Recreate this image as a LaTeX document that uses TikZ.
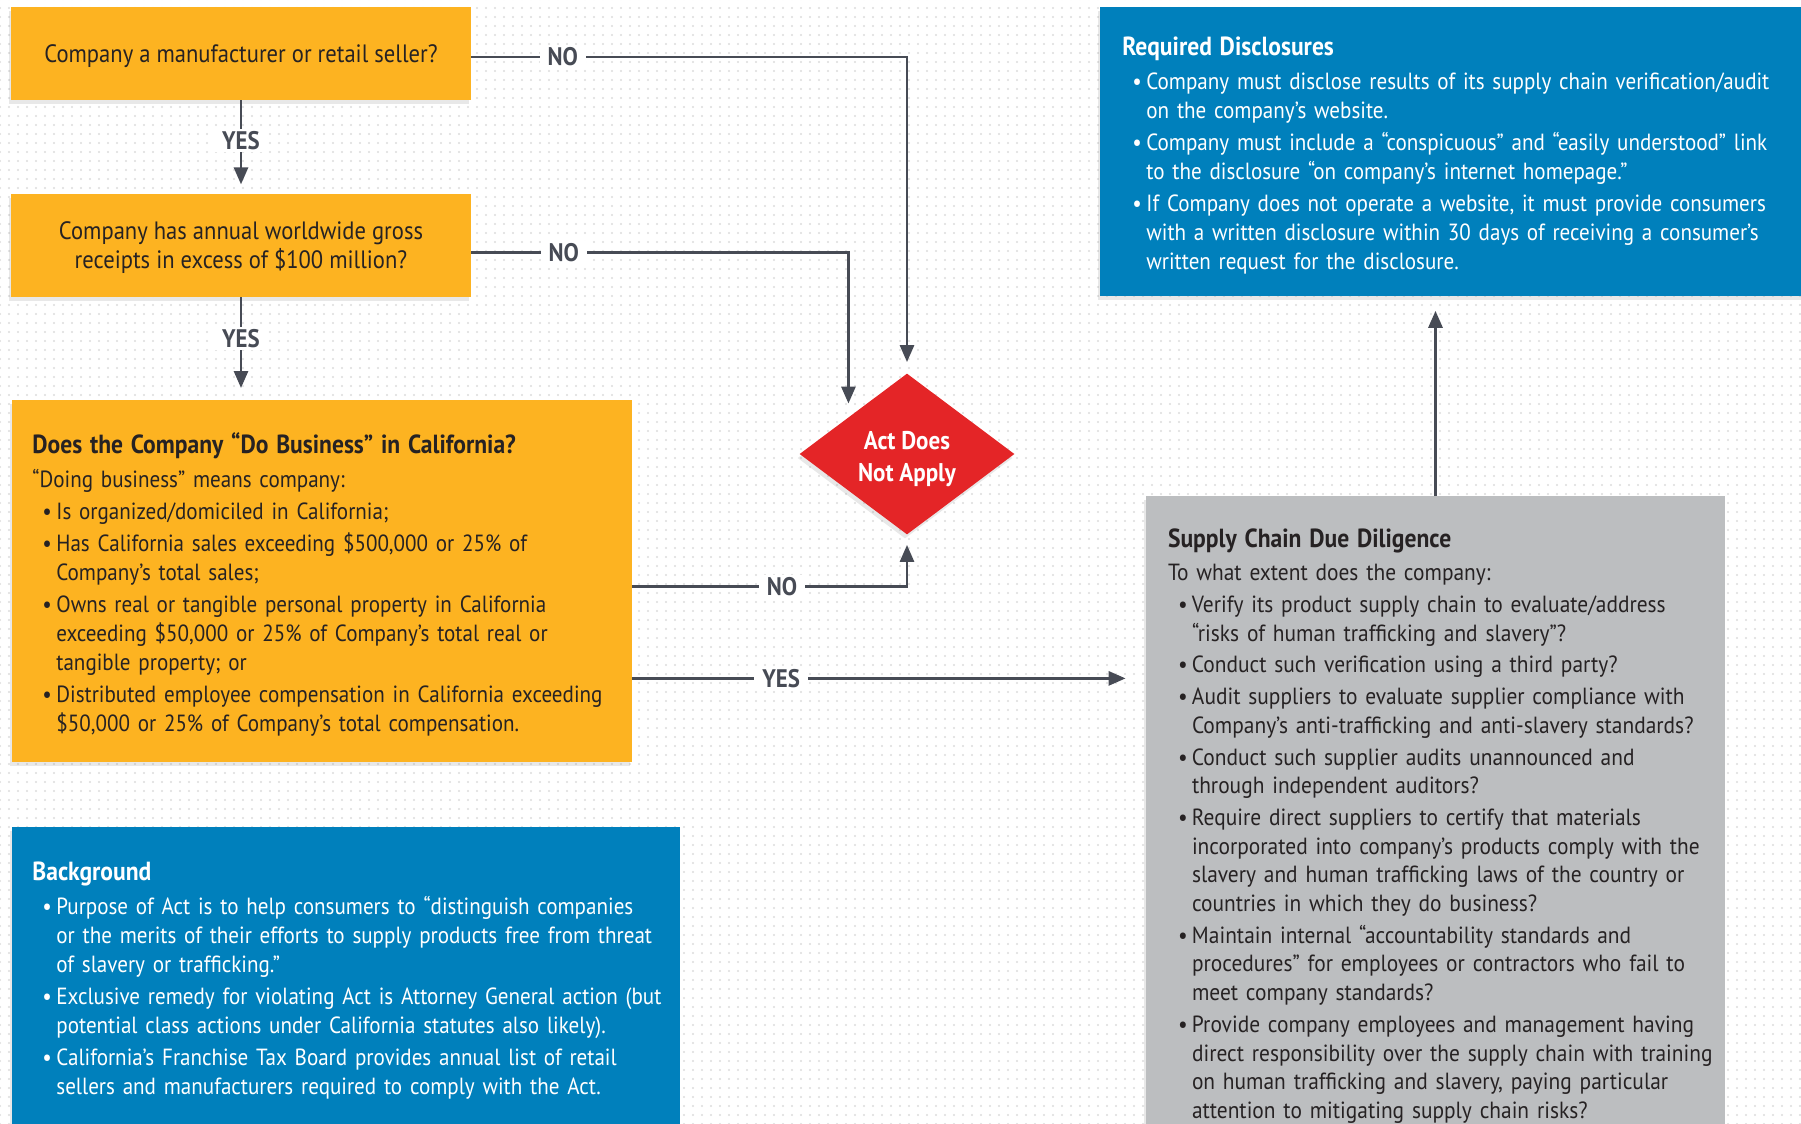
\documentclass[tikz,border=0pt]{standalone}
\usepackage{fontspec}
\setmainfont{PT Sans}
\newfontfamily\condfont{PT Sans}[FakeStretch=0.9]
\newfontfamily\midfont{PT Sans}[FakeStretch=0.915]
\usetikzlibrary{positioning,arrows.meta,shapes.geometric,shadows,patterns.meta}

\definecolor{qorange}{HTML}{FDB321}
\definecolor{infoblue}{HTML}{0080BC}
\definecolor{dilgray}{HTML}{BCBEC0}
\definecolor{stopred}{HTML}{E42527}
\definecolor{linegray}{HTML}{474B55}
\definecolor{inkdark}{HTML}{262223}
\definecolor{dotgray}{HTML}{DCDCDC}

\newcommand{\qfont}{\condfont\fontsize{12.55}{14.4}\selectfont}
\newcommand{\boxfont}{\condfont\fontsize{11.7}{14.5}\selectfont}
\newcommand{\wideboxfont}{\midfont\fontsize{11.7}{14.35}\selectfont}
\newcommand{\headfont}{\condfont\bfseries\fontsize{13.1}{14.5}\selectfont}
\newcommand{\tagfont}{\condfont\bfseries\fontsize{12.7}{14}\selectfont}
% bullet line and its continuation
\newcommand{\bitem}[1]{\mbox{\hspace*{5pt}\makebox[7pt][l]{\textbullet}#1}}
\newcommand{\bmore}[1]{\mbox{\hspace*{12pt}#1}}

\tikzdeclarepattern{
  name=bgdots, type=uncolored,
  bounding box={(-2.25pt,-2.25pt) and (2.25pt,2.25pt)},
  tile size={(4.5pt,4.5pt)},
  code={\fill (0pt,0pt) circle [radius=0.6pt];}
}

\begin{document}
\begin{tikzpicture}[x=0.5pt, y=-0.5pt,
  shade/.style={drop shadow={shadow xshift=-1pt, shadow yshift=-2pt, opacity=.18}},
  qbox/.style={rectangle, fill=qorange, text=inkdark, align=center, font=\qfont, shade},
  infobox/.style={rectangle, align=left, font=\boxfont, shade},
  arr/.style={draw=linegray, line width=1.4pt, -{Triangle[width=7pt,length=8.5pt]}},
  lbl/.style={fill=white, inner xsep=4pt, inner ysep=1pt, text=linegray, font=\tagfont}]

\useasboundingbox (0,0) rectangle (1801,1124);
\clip (0,0) rectangle (1801,1124);
\fill[white] (0,0) rectangle (1801,1124);
\fill[pattern=bgdots, pattern color=dotgray] (0,0) rectangle (1801,1124);

% questions
\node[qbox, minimum width=230pt, minimum height=46.5pt, text height=12pt, text depth=3pt] (q1) at (241,53.5) {Company a manufacturer or retail seller?};
\node[qbox, minimum width=230pt, minimum height=51.5pt, text height=26.5pt, text depth=3.4pt, below=46.5pt of q1] (q2) {Company has annual worldwide gross\\receipts in excess of \$100 million?};
\node[infobox, fill=qorange, text=inkdark, anchor=north west, text width=289.5pt, inner xsep=10.25pt, minimum height=181pt] (q3) at (11.5,400) {%
{\headfont\rule{0pt}{13.2pt}Does the Company “Do Business” in California?}\\[2.5pt]
\mbox{“Doing business” means company:}\\[1.5pt]
\bitem{Is organized/domiciled in California;}\\[1.5pt]
\bitem{Has California sales exceeding \$500,000 or 25\% of}\\
\bmore{Company’s total sales;}\\[1.5pt]
\bitem{Owns real or tangible personal property in California}\\
\bmore{exceeding \$50,000 or 25\% of Company’s total real or}\\
\bmore{tangible property; or}\\[1.5pt]
\bitem{Distributed employee compensation in California exceeding}\\
\bmore{\$50,000 or 25\% of Company’s total compensation.}};

% outcome
\node[diamond, aspect=1.33, fill=stopred, text=white, align=center, minimum width=107.5pt, minimum height=80.5pt, inner sep=0pt, text height=30.4pt, text depth=3.4pt, font=\condfont\bfseries\fontsize{12.8}{16}\selectfont, shade] (dia) at (907,454) {Act Does\\Not Apply};
\coordinate (d2) at ([xshift=-2.3pt]dia.north west);

% right column
\node[infobox, fill=infoblue, text=white, anchor=north west, text width=333pt, inner xsep=11pt, minimum height=144.5pt] (rd) at (1100,7) {%
{\headfont\rule{0pt}{13.2pt}Required Disclosures}\\[2.5pt]
\bitem{Company must disclose results of its supply chain verification/audit}\\
\bmore{on the company’s website.}\\[1.5pt]
\bitem{Company must include a “conspicuous” and “easily understood” link}\\
\bmore{to the disclosure “on company’s internet homepage.”}\\[1.5pt]
\bitem{If Company does not operate a website, it must provide consumers}\\
\bmore{with a written disclosure within 30 days of receiving a consumer’s}\\
\bmore{written request for the disclosure.}};

\node[infobox, fill=dilgray, text=inkdark, font=\wideboxfont, anchor=north, text width=267.5pt, inner xsep=11pt, inner ysep=16pt] (sc) at (1435.5,496) {%
{\headfont Supply Chain Due Diligence}\\[2.5pt]
\mbox{To what extent does the company:}\\[1.5pt]
\bitem{Verify its product supply chain to evaluate/address}\\
\bmore{“risks of human trafficking and slavery”?}\\[1.5pt]
\bitem{Conduct such verification using a third party?}\\[1.5pt]
\bitem{Audit suppliers to evaluate supplier compliance with}\\
\bmore{Company’s anti-trafficking and anti-slavery standards?}\\[1.5pt]
\bitem{Conduct such supplier audits unannounced and}\\
\bmore{through independent auditors?}\\[1.5pt]
\bitem{Require direct suppliers to certify that materials}\\
\bmore{incorporated into company’s products comply with the}\\
\bmore{slavery and human trafficking laws of the country or}\\
\bmore{countries in which they do business?}\\[1.5pt]
\bitem{Maintain internal “accountability standards and}\\
\bmore{procedures” for employees or contractors who fail to}\\
\bmore{meet company standards?}\\[1.5pt]
\bitem{Provide company employees and management having}\\
\bmore{direct responsibility over the supply chain with training}\\
\bmore{on human trafficking and slavery, paying particular}\\
\bmore{attention to mitigating supply chain risks?}};

% background note
\node[infobox, fill=infoblue, text=white, anchor=north west, text width=313.5pt, inner xsep=10.25pt, inner ysep=17pt] (bg) at (11.5,827) {%
{\headfont Background}\\[2.5pt]
\bitem{Purpose of Act is to help consumers to “distinguish companies}\\
\bmore{or the merits of their efforts to supply products free from threat}\\
\bmore{of slavery or trafficking.”}\\[1.5pt]
\bitem{Exclusive remedy for violating Act is Attorney General action (but}\\
\bmore{potential class actions under California statutes also likely).}\\[1.5pt]
\bitem{California’s Franchise Tax Board provides annual list of retail}\\
\bmore{sellers and manufacturers required to comply with the Act.}};

% connectors
\draw[arr, shorten >=4.5pt] (q1.south) -- node[lbl, pos=0.43] {YES} (q2.north);
\draw[arr, shorten >=6pt] (q2.south) -- node[lbl, pos=0.40] {YES} (q2.south |- q3.north);
\draw[arr, shorten >=5.5pt] ([yshift=-1.75pt]q1.east) -- node[lbl, pos=0.21] {NO} ([yshift=-1.75pt]q1.east -| dia.north) -- (dia.north);
\draw[arr, shorten >=5pt] ([yshift=-3.5pt]q2.east) -- node[lbl, pos=0.245] {NO} ([yshift=-3.5pt]q2.east -| d2) -- (d2);
\draw[arr, shorten >=5pt] ([yshift=-2.5pt]q3.east) -- node[lbl, pos=0.545] {NO} ([yshift=-2.5pt]q3.east -| dia.south) -- (dia.south);
\draw[arr, shorten >=10pt] ([yshift=-48.5pt]q3.east) -- node[lbl, pos=0.29] {YES} ([yshift=-48.5pt]q3.east -| sc.west);
\draw[arr, shorten >=7pt] (sc.north) -- (sc.north |- rd.south);
\end{tikzpicture}
\end{document}
